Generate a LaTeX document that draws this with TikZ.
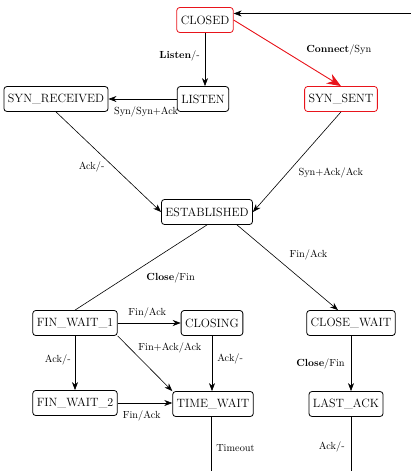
\documentclass[tikz,border=0pt]{standalone}
\usepackage{tikz}
\usetikzlibrary{arrows.meta, positioning}
\definecolor{alertred}{HTML}{E8141B}

\tikzset{
    state/.style={draw=black, fill=white, rounded corners=3pt, line width=0.8pt, minimum height=25pt, inner xsep=4pt, font=\fontsize{12}{14}\selectfont},
    hotstate/.style={state, draw=alertred},
    trans/.style={-{Stealth[length=8pt, width=6pt, inset=2.5pt]}, line width=0.6pt},
    hottrans/.style={-{Stealth[length=14pt, width=11pt, inset=4.5pt]}, draw=alertred, line width=0.9pt},
    lbl/.style={font=\fontsize{10.3}{12}\selectfont, inner sep=2pt}
}

\begin{document}
\begin{tikzpicture}[x=1pt, y=-1pt]
    \useasboundingbox (0,0) rectangle (410,471);

    % states
    \node[hotstate] (closed) at (205,20) {CLOSED};
    \node[state] (listen) at (203,99) {LISTEN};
    \node[state] (synrcvd) at (56,99) {SYN\_RECEIVED};
    \node[hotstate] (synsent) at (341,99) {SYN\_SENT};
    \node[state] (estab) at (207,212) {ESTABLISHED};
    \node[state] (finwaitA) at (75,323) {FIN\_WAIT\_1};
    \node[state] (closing) at (212,323) {CLOSING};
    \node[state] (closewait) at (351,323) {CLOSE\_WAIT};
    \node[state] (finwaitB) at (75,403) {FIN\_WAIT\_2};
    \node[state] (timewait) at (213,404) {TIME\_WAIT};
    \node[state] (lastack) at (346,404) {LAST\_ACK};

    % loop back to CLOSED (runs outside the page)
    \coordinate (bottomrun) at (0,495);
    \coordinate (rightrun) at (440,0);

    % opening
    \draw[trans] (closed.south) -- node[lbl, left=3pt, pos=0.44] {\textbf{Listen}/-} (closed.south |- listen.north);
    \draw[hottrans] (closed.east) -- node[lbl, pos=0.45, anchor=west, xshift=22pt] {\textbf{Connect}/Syn} (synsent.north);
    \draw[trans] (listen.west) -- node[lbl, below=5pt, pos=0.45] {Syn/Syn+Ack} (synrcvd.east);
    \draw[trans] (synrcvd.south) -- node[lbl, left=7pt, pos=0.55] {Ack/-} (estab.west);
    \draw[trans] (synsent.south) -- node[lbl, right=9pt, pos=0.61] {Syn+Ack/Ack} (estab.east);

    % closing
    \draw[line width=0.6pt] (estab.south) -- node[lbl, right=19pt, pos=0.62] {\textbf{Close}/Fin} (finwaitA.north);
    \draw[trans] ([xshift=30pt]estab.south) -- node[lbl, right=15pt, pos=0.35] {Fin/Ack} ([xshift=-13pt]closewait.north);
    \draw[trans] (finwaitA.east) -- node[lbl, above=3pt, pos=0.47] {Fin/Ack} (closing.west);
    \draw[trans] (finwaitA.south east) -- node[lbl, right=7pt, pos=0.21] {Fin+Ack/Ack} (timewait.north west);
    \draw[trans] (finwaitA.south) -- node[lbl, left=2pt, pos=0.45] {Ack/-} (finwaitB.north);
    \draw[trans] (closing.south) -- node[lbl, right=3pt, pos=0.41] {Ack/-} (closing.south |- timewait.north);
    \draw[trans] (finwaitB.east) -- node[lbl, below=5pt, pos=0.44] {Fin/Ack} (finwaitB.east -| timewait.west);
    \draw[trans] (closewait.south) -- node[lbl, left=4pt, pos=0.51] {\textbf{Close}/Fin} (closewait.south |- lastack.north);

    % back to CLOSED
    \draw[trans] ([xshift=-2pt]timewait.south) -- node[lbl, right=3pt, pos=0.4] {Timeout} ([xshift=-2pt]timewait.south |- bottomrun)
        -| (rightrun) |- ([yshift=6.5pt]closed.east);
    \draw[line width=0.6pt] ([xshift=5pt]lastack.south) -- node[lbl, left=4pt, pos=0.39] {Ack/-} ([xshift=5pt]lastack.south |- bottomrun);
\end{tikzpicture}
\end{document}
